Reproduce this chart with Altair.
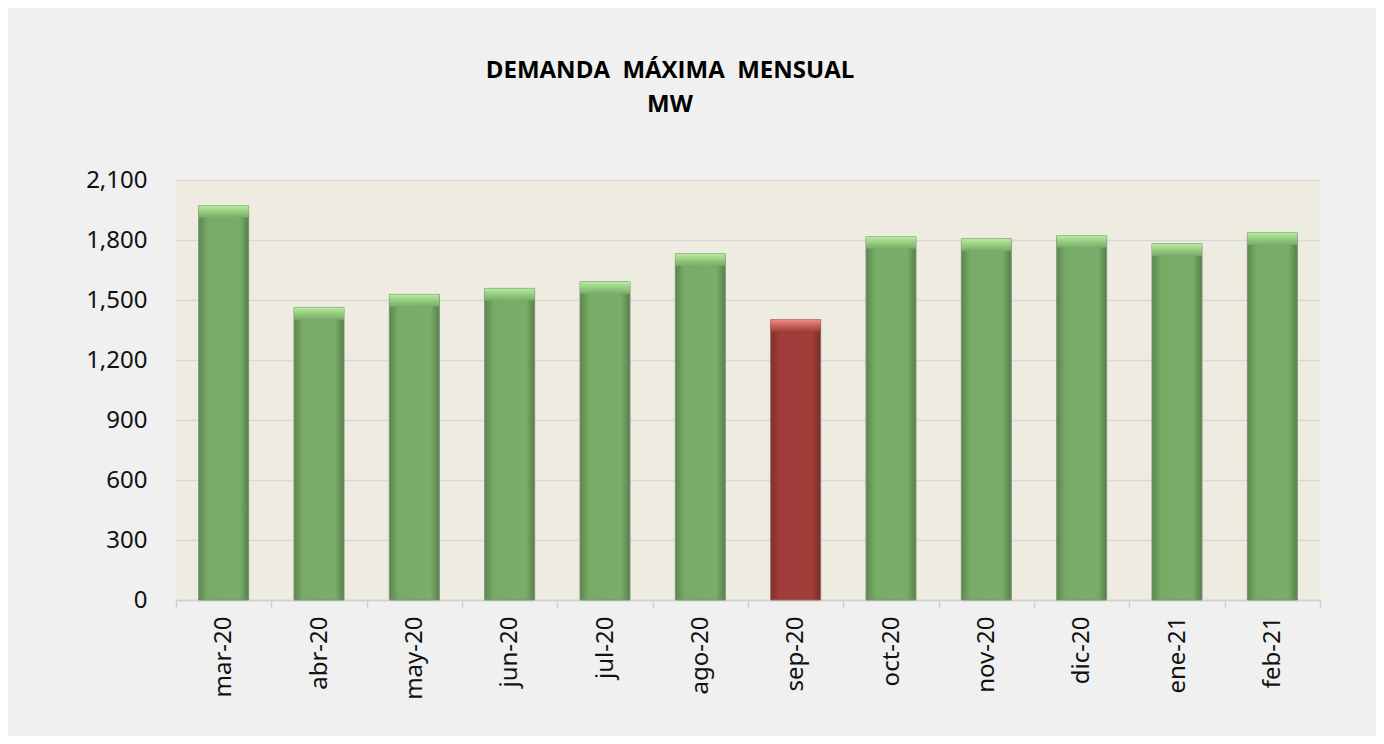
import altair as alt
import pandas as pd

months = ["mar-20", "abr-20", "may-20", "jun-20", "jul-20", "ago-20",
          "sep-20", "oct-20", "nov-20", "dic-20", "ene-21", "feb-21"]
values = [1972, 1463, 1528, 1558, 1591, 1731, 1402, 1817, 1806, 1822, 1781, 1836]
kinds = ["normal"] * 6 + ["destacado"] + ["normal"] * 5
y_ticks = [0, 300, 600, 900, 1200, 1500, 1800, 2100]

df = pd.DataFrame({"mes": months, "valor": values, "tipo": kinds})

x_enc = alt.X(
    "mes:N", sort=months, title=None,
    scale=alt.Scale(paddingInner=0, paddingOuter=0),
    axis=alt.Axis(labelAngle=-90, labelFontSize=24, labelFont="Noto Sans",
                  labelColor="#111111", labelPadding=8, tickBand="extent",
                  tickSize=8, tickColor="#d0d0d0", domainColor="#d0d0d0",
                  domainWidth=1.5, tickWidth=1.5, grid=False,
                  labelBaseline="middle", labelAlign="right"),
)
y_enc = alt.Y(
    "valor:Q", title=None,
    scale=alt.Scale(domain=[0, 2100], nice=False),
    axis=alt.Axis(values=y_ticks, labelExpr="format(datum.value, ',')",
                  labelFontSize=24,
                  labelFont="Noto Sans", labelColor="#111111", labelPadding=29,
                  ticks=False, domain=False, gridColor="#d8d8d8", gridWidth=1.5),
)

green = alt.Gradient(
    gradient="linear", x1=0, y1=0, x2=1, y2=0,
    stops=[alt.GradientStop(color="#5a874b", offset=0),
           alt.GradientStop(color="#79ab68", offset=0.18),
           alt.GradientStop(color="#7bad6a", offset=0.82),
           alt.GradientStop(color="#54804a", offset=1)],
)
red = alt.Gradient(
    gradient="linear", x1=0, y1=0, x2=1, y2=0,
    stops=[alt.GradientStop(color="#853029", offset=0),
           alt.GradientStop(color="#a03c39", offset=0.18),
           alt.GradientStop(color="#a23e3a", offset=0.82),
           alt.GradientStop(color="#7c2c28", offset=1)],
)
green_top = alt.Gradient(
    gradient="linear", x1=0, y1=0, x2=0, y2=1,
    stops=[alt.GradientStop(color="#b6eea0", offset=0),
           alt.GradientStop(color="#8fc67b", offset=0.6),
           alt.GradientStop(color="#7bad6a", offset=1)],
)
red_top = alt.Gradient(
    gradient="linear", x1=0, y1=0, x2=0, y2=1,
    stops=[alt.GradientStop(color="#f08a82", offset=0),
           alt.GradientStop(color="#c25a54", offset=0.6),
           alt.GradientStop(color="#a23e3a", offset=1)],
)

bw = alt.RelativeBandSize(0.524)
base = alt.Chart(df).encode(x=x_enc)

bars_g = base.transform_filter(alt.datum.tipo == "normal").mark_bar(
    color=green, stroke="#7f8f78", strokeWidth=1, width=bw).encode(y=y_enc)
bars_r = base.transform_filter(alt.datum.tipo == "destacado").mark_bar(
    color=red, stroke="#8a6a66", strokeWidth=1, width=bw).encode(y=y_enc)

top_g = base.transform_filter(alt.datum.tipo == "normal").transform_calculate(
    bajo="datum.valor - 60").mark_bar(color=green_top, width=bw).encode(
    y=y_enc, y2="bajo:Q")
top_r = base.transform_filter(alt.datum.tipo == "destacado").transform_calculate(
    bajo="datum.valor - 60").mark_bar(color=red_top, width=bw).encode(
    y=y_enc, y2="bajo:Q")

nb = "\u00a0\u00a0"
chart = alt.layer(bars_g, bars_r, top_g, top_r).properties(
    width=1144, height=420,
    autosize=alt.AutoSizeParams(type="none"),
    padding={"left": 168, "top": 172, "right": 56, "bottom": 136},
    background="#f0f0f0",
    title=alt.TitleParams(
        text=["DEMANDA" + nb + "MÁXIMA" + nb + "MENSUAL", "MW"], fontSize=24,
        font="Open Sans", fontWeight="bold", color="#000000",
        anchor="middle", dx=-78, offset=51, lineHeight=34),
).configure_view(fill="#eeebe0", stroke=None).configure_axisY(
    labelExpr="format(datum.value, ',')")

chart.save("out.html", embed_options={"renderer": "svg", "actions": False})
